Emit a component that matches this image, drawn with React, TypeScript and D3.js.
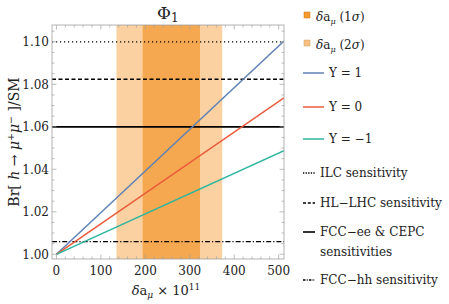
import React from 'react';
import * as d3 from 'd3';

const lineX = [0, 512];
const seriesNames = ['Y = 1', 'Y = 0', 'Y = \u22121'];
const seriesY1 = [1.0, 1.1004];
const seriesY0 = [1.0, 1.0736];
const seriesYm1 = [1.0, 1.0488];
const seriesColors = ['#5E81B5', '#EA5B3A', '#2DB59E'];

const band1Sigma = [194, 323];
const band2Sigma = [135, 373];

const ilcLevel = 1.1;
const hllhcLevel = 1.0824;
const fcceeLevel = 1.06;
const fcchhLevel = 1.006;

const xTicks = [0, 100, 200, 300, 400, 500];
const yTicks = [1.0, 1.02, 1.04, 1.06, 1.08, 1.1];

const serif = "'DejaVu Serif', serif";

const App = () => {
  const width = 449;
  const height = 304;
  const m = { left: 52, right: 284, top: 25, bottom: 259 };

  const x = d3.scaleLinear().domain([-10, 512]).range([m.left, m.right]);
  const y = d3.scaleLinear().domain([0.9978, 1.1079]).range([m.bottom, m.top]);

  const line = d3.line<number>().x((_, i) => x(lineX[i])).y(d => y(d));
  const series = [seriesY1, seriesY0, seriesYm1];

  const xMinor = d3.range(0, 520, 20).filter(v => v <= 512);
  const yMinor = d3.range(1.0, 1.1076, 0.005);

  const hLines = [
    { v: ilcLevel, dash: '1.2 2.8', w: 1.3 },
    { v: hllhcLevel, dash: '4 2.5', w: 1.6 },
    { v: fcceeLevel, dash: undefined, w: 1.8 },
    { v: fcchhLevel, dash: '5 2 1.2 2', w: 1.3 },
  ];

  const frame = '#a0a0a0';
  const lg = 316;

  return (
    <svg width={width} height={height} style={{ position: 'absolute', left: 0, top: 0, background: '#fff' }}>
      <defs>
        <clipPath id="plot">
          <rect x={m.left} y={m.top} width={m.right - m.left} height={m.bottom - m.top} />
        </clipPath>
      </defs>
      <g clipPath="url(#plot)">
        <rect x={x(band2Sigma[0])} y={m.top} width={x(band2Sigma[1]) - x(band2Sigma[0])} height={m.bottom - m.top} fill="#FBD1A1" />
        <rect x={x(band1Sigma[0])} y={m.top} width={x(band1Sigma[1]) - x(band1Sigma[0])} height={m.bottom - m.top} fill="#F5A84F" />
        {hLines.map((h, i) => (
          <line key={i} x1={m.left} x2={m.right} y1={y(h.v)} y2={y(h.v)} stroke="#000" strokeWidth={h.w} strokeDasharray={h.dash} />
        ))}
        {series.map((s, i) => (
          <path key={i} d={line(s) || ''} fill="none" stroke={seriesColors[i]} strokeWidth={1.5} />
        ))}
      </g>
      {/* frame */}
      <rect x={m.left} y={m.top} width={m.right - m.left} height={m.bottom - m.top} fill="none" stroke={frame} strokeWidth={0.8} />
      {xMinor.map(v => {
        const major = v % 100 === 0;
        const len = major ? 4.5 : 2.5;
        return (
          <g key={'xt' + v} stroke={frame} strokeWidth={0.7}>
            <line x1={x(v)} x2={x(v)} y1={m.bottom} y2={m.bottom - len} />
            <line x1={x(v)} x2={x(v)} y1={m.top} y2={m.top + len} />
          </g>
        );
      })}
      {yMinor.map((v, i) => {
        const major = i % 4 === 0;
        const len = major ? 4.5 : 2.5;
        return (
          <g key={'yt' + i} stroke={frame} strokeWidth={0.7}>
            <line x1={m.left} x2={m.left + len} y1={y(v)} y2={y(v)} />
            <line x1={m.right} x2={m.right - len} y1={y(v)} y2={y(v)} />
          </g>
        );
      })}
      <g fontFamily={serif} fontSize={12} fill="#222">
        {xTicks.map(v => (
          <text key={'xl' + v} x={x(v)} y={m.bottom + 16} textAnchor="middle">{v}</text>
        ))}
        {yTicks.map(v => (
          <text key={'yl' + v} x={m.left - 3} y={y(v) + 4.3} textAnchor="end">{v.toFixed(2)}</text>
        ))}
      </g>

      {/* title */}
      <text x={157} y={19} fontFamily={serif} fontSize={17} fill="#222">
        Φ<tspan fontSize={12} dy={3}>1</tspan>
      </text>

      {/* axis labels */}
      <text x={166} y={295} textAnchor="middle" fontFamily={serif} fontSize={13} fill="#222">
        <tspan fontStyle="italic">δ</tspan>a<tspan fontSize={9} fontStyle="italic" dy={3}>μ</tspan>
        <tspan dy={-3}> × 10</tspan><tspan fontSize={9} dy={-5}>11</tspan>
      </text>
      <text transform={`translate(19,142) rotate(-90)`} textAnchor="middle" fontFamily={serif} fontSize={14} fill="#222">
        Br[ <tspan fontStyle="italic">h</tspan> → <tspan fontStyle="italic">μ</tspan>
        <tspan fontSize={9.5} dy={-5}>+</tspan><tspan fontStyle="italic" dy={5}>μ</tspan>
        <tspan fontSize={9.5} dy={-5}>−</tspan><tspan dy={5}> ]/SM</tspan>
      </text>

      {/* legend */}
      <g fontFamily={serif} fontSize={12} fill="#222">
        <rect x={304} y={12} width={6} height={6} fill="#F39A2B" stroke="#c77a20" strokeWidth={0.5} />
        <text x={lg} y={21}>
          <tspan fontStyle="italic">δ</tspan>a<tspan fontSize={8} fontStyle="italic" dy={3}>μ</tspan>
          <tspan dy={-3}> (1</tspan><tspan fontStyle="italic">σ</tspan>)
        </text>
        <rect x={304} y={40} width={6} height={6} fill="#F8C07E" stroke="#cfa070" strokeWidth={0.5} />
        <text x={lg} y={49}>
          <tspan fontStyle="italic">δ</tspan>a<tspan fontSize={8} fontStyle="italic" dy={3}>μ</tspan>
          <tspan dy={-3}> (2</tspan><tspan fontStyle="italic">σ</tspan>)
        </text>
        {seriesNames.map((n, i) => {
          const ly = [73, 107, 139][i];
          return (
            <g key={n}>
              <line x1={303} x2={324} y1={ly} y2={ly} stroke={seriesColors[i]} strokeWidth={1.5} />
              <text x={329} y={ly + 4.3}>{n}</text>
            </g>
          );
        })}
        {[
          { t: ['ILC sensitivity'], ly: 173, dash: '1.3 1.3', w: 1.4 },
          { t: ['HL\u2212LHC sensitivity'], ly: 203, dash: '3 1.8', w: 1.4 },
          { t: ['FCC\u2212ee & CEPC', 'sensitivities'], ly: 232, dash: undefined, w: 1.6 },
          { t: ['FCC\u2212hh sensitivity'], ly: 280, dash: '2.5 1.2 1 1.2', w: 1.3 },
        ].map((it, i) => (
          <g key={i}>
            <line x1={303} x2={315} y1={it.ly} y2={it.ly} stroke="#000" strokeWidth={it.w} strokeDasharray={it.dash} />
            {it.t.map((s, j) => (
              <text key={j} x={320} y={it.ly + 4.3 + j * 20}>{s}</text>
            ))}
          </g>
        ))}
      </g>
    </svg>
  );
};

export default App;
